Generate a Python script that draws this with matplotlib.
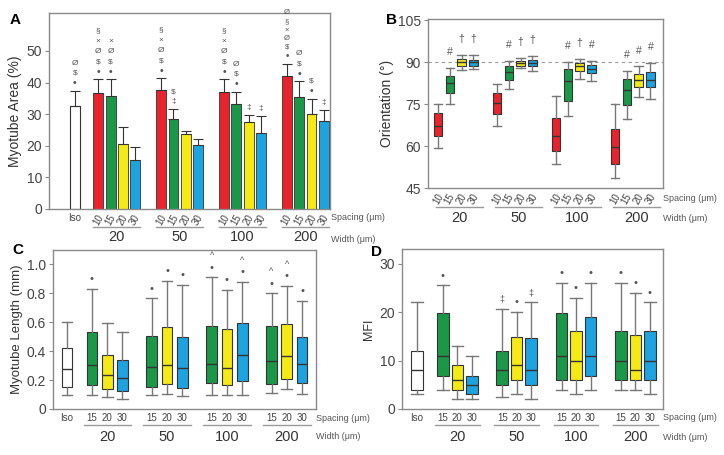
import numpy as np
import matplotlib.pyplot as plt
from matplotlib.transforms import blended_transform_factory

plt.rcParams['font.family'] = ['Liberation Sans', 'DejaVu Sans']

RED, GREEN, YELLOW, BLUE = '#e8232b', '#1a9848', '#f6ea15', '#1da3df'
EDGE = '#333333'
GREY = '#555555'
SPINE = '#8a8a8a'

widths = ['20', '50', '100', '200']
spacing4 = ['10', '15', '20', '30']
spacing3 = ['15', '20', '30']

# A: myotube area (%), mean and upper SD
area_iso = 32.6
area_iso_sd = 4.7
area_iso_marks = ['•', '$', 'Ø']
area = [[36.8, 35.7, 20.7, 15.6],
        [37.6, 28.6, 23.6, 20.2],
        [37.0, 33.3, 27.6, 24.1],
        [42.0, 35.5, 29.9, 27.7]]
area_sd = [[4.2, 5.3, 5.3, 4.1],
           [3.7, 2.9, 1.2, 2.1],
           [4.0, 3.7, 2.1, 5.3],
           [4.0, 4.9, 5.0, 3.5]]
area_marks = [[['•', '$', 'Ø', '×', '§'], ['•', '$', 'Ø', '×'], [], []],
              [['•', '$', 'Ø', '×', '§'], ['‡', '$'], [], []],
              [['•', '$', 'Ø', '×', '§'], ['•', '$', 'Ø'], ['‡'], ['‡']],
              [['•', '$', 'Ø', '×', '§', 'Ø'], ['•', '$', 'Ø'], ['•', '$'], ['‡']]]

# B: orientation (deg) box stats
ori_lo = [[59.3, 75.0, 87.3, 87.5], [67.3, 80.4, 87.9, 87.0],
          [53.6, 70.6, 83.9, 83.3], [48.6, 69.8, 77.5, 76.8]]
ori_q1 = [[63.5, 78.9, 88.8, 88.8], [71.5, 83.7, 88.5, 88.7],
          [58.1, 76.2, 87.0, 86.1], [53.6, 74.8, 81.3, 81.1]]
ori_med = [[67.3, 82.7, 90.1, 90.1], [75.4, 86.7, 89.6, 89.9],
           [63.7, 83.3, 88.5, 87.6], [59.6, 80.1, 83.7, 83.7]]
ori_q3 = [[71.8, 85.1, 91.1, 90.8], [78.9, 88.8, 90.5, 90.8],
          [70.0, 87.6, 89.6, 89.0], [66.1, 84.0, 85.8, 86.7]]
ori_hi = [[75.1, 88.1, 92.6, 92.6], [82.1, 90.5, 91.4, 92.3],
          [78.0, 90.2, 91.1, 90.6], [75.0, 87.0, 88.5, 89.6]]
ori_marks = [['', '#', '†', '†'], ['', '#', '†', '†'],
             ['', '#', '†', '#'], ['', '#', '#', '#']]

# C: myotube length (mm) box stats, iso first then groups of 3
len_iso = [0.099, 0.149, 0.276, 0.421, 0.605]
len_lo = [[0.099, 0.080, 0.071], [0.094, 0.103, 0.087],
          [0.099, 0.094, 0.099], [0.110, 0.138, 0.103]]
len_q1 = [[0.168, 0.138, 0.122], [0.152, 0.172, 0.145],
          [0.179, 0.163, 0.195], [0.172, 0.209, 0.177]]
len_med = [[0.306, 0.232, 0.214], [0.294, 0.306, 0.283],
           [0.310, 0.287, 0.375], [0.333, 0.368, 0.310]]
len_q3 = [[0.531, 0.375, 0.340], [0.508, 0.570, 0.497],
          [0.577, 0.554, 0.598], [0.577, 0.589, 0.501]]
len_hi = [[0.830, 0.598, 0.531], [0.766, 0.887, 0.857],
          [0.910, 0.823, 0.880], [0.800, 0.851, 0.747]]
len_marks = [[['•'], [], []], [['•'], ['•'], ['•']],
             [['•', '^'], ['•'], ['•', '^']], [['•', '^'], ['•', '^'], ['•']]]

# D: MFI box stats
mfi_iso = [3.1, 4.0, 8.0, 11.9, 22.0]
mfi_lo = [[4.0, 2.1, 2.1], [2.4, 3.1, 2.1], [4.0, 3.1, 4.0], [4.0, 4.0, 3.1]]
mfi_q1 = [[6.9, 4.0, 3.1], [5.0, 6.0, 5.0], [6.0, 6.0, 6.9], [6.0, 6.0, 6.0]]
mfi_med = [[11.0, 6.0, 5.0], [8.0, 9.0, 8.0], [11.0, 10.0, 11.0], [10.0, 8.0, 10.0]]
mfi_q3 = [[19.9, 9.0, 6.9], [11.9, 14.9, 14.7], [19.9, 16.0, 18.9], [16.0, 15.2, 16.0]]
mfi_hi = [[25.5, 13.0, 11.0], [20.6, 20.1, 22.0], [26.0, 22.9, 26.0], [26.0, 23.9, 22.0]]
mfi_marks = [['•', '', ''], ['‡', '•', '‡'], ['•', '•', '•'], ['•', '•', '•']]

fig = plt.figure(figsize=(7.24, 4.55), dpi=100)


def px_axes(l, t, r, b):
    return fig.add_axes([l / 724, 1 - b / 455, (r - l) / 724, (b - t) / 455])


def style(ax):
    for s in ax.spines.values():
        s.set_color(SPINE)
        s.set_linewidth(1.0)
    ax.tick_params(axis='y', length=3, color=SPINE, labelsize=10, labelcolor='#444444', pad=2)
    ax.tick_params(axis='x', length=0, labelcolor='#444444')


def under(ax, starts, lo, hi, mid, y_line, y_text, sp_xy, wd_xy):
    tr = blended_transform_factory(ax.transData, ax.transAxes)
    for s, lab in zip(starts, widths):
        ax.plot([s + lo, s + hi], [y_line, y_line], transform=tr,
                color='#9a9a9a', lw=1, clip_on=False)
        ax.text(s + mid, y_text, lab, transform=tr, ha='center', va='center',
                fontsize=10.5, color='#333333')
    ax.text(sp_xy[0], sp_xy[1], 'Spacing (μm)', transform=ax.transAxes, ha='left',
            va='center', fontsize=6.5, color='#555555')
    ax.text(wd_xy[0], wd_xy[1], 'Width (μm)', transform=ax.transAxes, ha='left',
            va='center', fontsize=6.5, color='#555555')


def stack(ax, x, y, marks, first=6, step=7, size=6.5):
    for i, m in enumerate(marks):
        if m:
            fs = size * 1.25 if m == '•' else size
            ax.annotate(m, (x, y), xytext=(0, first + i * step), textcoords='offset points',
                        ha='center', va='center', fontsize=fs, color=GREY)


def boxes(ax, pos, lo, q1, med, q3, hi, colors, w):
    stats = [dict(whislo=a, q1=b, med=c, q3=d, whishi=e, fliers=[])
             for a, b, c, d, e in zip(lo, q1, med, q3, hi)]
    bp = ax.bxp(stats, positions=pos, widths=w, capwidths=w, patch_artist=True,
                showfliers=False, manage_ticks=False,
                boxprops=dict(edgecolor=EDGE, linewidth=0.8),
                medianprops=dict(color=EDGE, linewidth=1.0),
                whiskerprops=dict(color='#777777', linewidth=1.0),
                capprops=dict(color='#777777', linewidth=1.0))
    for p, c in zip(bp['boxes'], colors):
        p.set_facecolor(c)


# ---------- A ----------
axA = px_axes(49, 13, 330, 209)
style(axA)
colors4 = [RED, GREEN, YELLOW, BLUE]
startsA = [1.9 + 5.1 * g for g in range(4)]
axA.bar(0, area_iso, 0.8, color='white', edgecolor=EDGE, linewidth=0.8,
        yerr=[[0], [area_iso_sd]], error_kw=dict(ecolor=EDGE, elinewidth=0.8, capsize=3.5, capthick=0.8))
stack(axA, 0, area_iso + area_iso_sd, area_iso_marks, first=5.5, step=7.3, size=6)
xsA = [0]
labsA = ['Iso']
for g, s in enumerate(startsA):
    pos = [s + j for j in range(4)]
    axA.bar(pos, area[g], 0.8, color=colors4, edgecolor=EDGE, linewidth=0.6,
            yerr=[[0] * 4, area_sd[g]],
            error_kw=dict(ecolor=EDGE, elinewidth=0.8, capsize=3.5, capthick=0.8))
    for j in range(4):
        marks = area_marks[g][j]
        step = 7.3 if len(marks) < 6 else 6.2
        stack(axA, pos[j], area[g][j] + area_sd[g][j], marks,
              first=5.5, step=step, size=6 if len(marks) < 6 else 5.5)
    xsA += pos
    labsA += spacing4
axA.set_xticks(xsA)
tl = axA.set_xticklabels(labsA, fontsize=7)
for t in tl[1:]:
    t.set_rotation(60)
axA.tick_params(axis='x', pad=3)
axA.set_xlim(-2.1, 20.7)
axA.set_ylim(0, 62)
axA.set_yticks([0, 10, 20, 30, 40, 50])
axA.set_ylabel('Myotube Area (%)', fontsize=10, color='#333333', labelpad=3)
under(axA, startsA, -0.4, 3.4, 1.5, -0.092, -0.143, (1.005, -0.045), (1.005, -0.155))
fig.text(15 / 724, 1 - 20 / 455, 'A', fontsize=11, fontweight='bold', va='center', ha='center')

# ---------- B ----------
axB = px_axes(428, 19, 663, 188)
style(axB)
xsB = []
for g in range(4):
    pos = [5 * g + j for j in range(4)]
    boxes(axB, pos, ori_lo[g], ori_q1[g], ori_med[g], ori_q3[g], ori_hi[g], colors4, 0.7)
    for j in range(4):
        stack(axB, pos[j], ori_hi[g][j], [ori_marks[g][j]], first=11.5, size=7.5)
    xsB += pos
axB.axhline(90, color='#9a9a9a', lw=0.8, ls=(0, (3, 3)), zorder=0)
axB.set_xticks(xsB)
axB.set_xticklabels(spacing4 * 4, fontsize=7, rotation=60)
axB.tick_params(axis='x', pad=3)
axB.set_xlim(-0.85, 19.07)
axB.set_ylim(45, 105.5)
axB.set_yticks([45, 60, 75, 90, 105])
axB.set_ylabel('Orientation (°)', fontsize=10, color='#333333', labelpad=3)
under(axB, [5 * g for g in range(4)], -0.2, 3.8, 1.8, -0.112, -0.178, (1.0, -0.065), (1.0, -0.18))
fig.text(392 / 724, 1 - 20 / 455, 'B', fontsize=11, fontweight='bold', va='center', ha='center')

# ---------- C ----------
colors3 = [GREEN, YELLOW, BLUE]
axC = px_axes(53, 250, 316, 409)
style(axC)
startsC = [1.63 + 3.92 * g for g in range(4)]
boxes(axC, [0], [len_iso[0]], [len_iso[1]], [len_iso[2]], [len_iso[3]], [len_iso[4]], ['white'], 0.7)
xsC = [0]
labsC = ['Iso']
for g, s in enumerate(startsC):
    pos = [s + j for j in range(3)]
    boxes(axC, pos, len_lo[g], len_q1[g], len_med[g], len_q3[g], len_hi[g], colors3, 0.7)
    for j in range(3):
        stack(axC, pos[j], len_hi[g][j], len_marks[g][j], first=7, step=8.5, size=6.5)
    xsC += pos
    labsC += spacing3
axC.set_xticks(xsC)
axC.set_xticklabels(labsC, fontsize=7)
axC.tick_params(axis='x', pad=3)
axC.set_xlim(-0.92, 16.3)
axC.set_ylim(0, 1.1)
axC.set_yticks([0, 0.2, 0.4, 0.6, 0.8, 1.0])
axC.set_yticklabels(['0', '0.2', '0.4', '0.6', '0.8', '1.0'])
axC.set_ylabel('Myotube Length (mm)', fontsize=9.5, color='#333333', labelpad=3)
under(axC, startsC, -0.55, 2.55, 1.0, -0.1, -0.176, (1.0, -0.057), (1.0, -0.176))
fig.text(18 / 724, 1 - 250 / 455, 'C', fontsize=11, fontweight='bold', va='center', ha='center')

# ---------- D ----------
axD = px_axes(402, 249, 663, 409)
style(axD)
startsD = [1.79 + 4.09 * g for g in range(4)]
boxes(axD, [0], [mfi_iso[0]], [mfi_iso[1]], [mfi_iso[2]], [mfi_iso[3]], [mfi_iso[4]], ['white'], 0.8)
xsD = [0]
labsD = ['Iso']
for g, s in enumerate(startsD):
    pos = [s + j for j in range(3)]
    boxes(axD, pos, mfi_lo[g], mfi_q1[g], mfi_med[g], mfi_q3[g], mfi_hi[g], colors3, 0.8)
    for j in range(3):
        stack(axD, pos[j], mfi_hi[g][j], [mfi_marks[g][j]], first=7, size=6.5)
    xsD += pos
    labsD += spacing3
axD.set_xticks(xsD)
axD.set_xticklabels(labsD, fontsize=7)
axD.tick_params(axis='x', pad=3)
axD.set_xlim(-1.03, 16.97)
axD.set_ylim(0, 33)
axD.set_yticks([0, 10, 20, 30])
axD.set_ylabel('MFI', fontsize=9, color='#333333', labelpad=3)
under(axD, startsD, -0.55, 2.55, 1.0, -0.1, -0.175, (1.0, -0.05), (1.0, -0.175))
fig.text(377 / 724, 1 - 252 / 455, 'D', fontsize=11, fontweight='bold', va='center', ha='center')

fig.savefig('out.png', dpi=100)
